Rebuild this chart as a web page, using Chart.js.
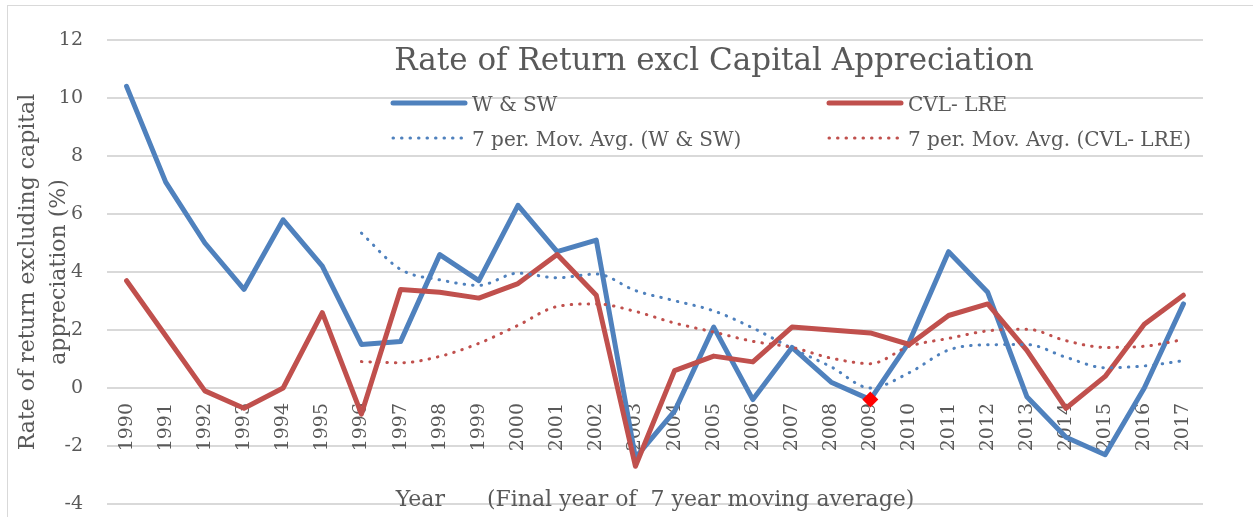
<!DOCTYPE html>
<html>
<head>
<meta charset="utf-8">
<script src="https://cdn.jsdelivr.net/npm/chart.js@4/dist/chart.umd.min.js"></script>
<style>
  html, body { margin: 0; padding: 0; background: #fff; }
  #wrap { width: 1253px; height: 517px; position: relative; }
</style>
</head>
<body>
<div id="wrap"><canvas id="rateChart" width="1253" height="517"></canvas></div>
<script>
// Rate of return excl capital appreciation, 1990-2017

var years = ['1990', '1991', '1992', '1993', '1994', '1995', '1996', '1997', '1998', '1999',
             '2000', '2001', '2002', '2003', '2004', '2005', '2006', '2007', '2008', '2009',
             '2010', '2011', '2012', '2013', '2014', '2015', '2016', '2017'];

var wsw = [10.4, 7.1, 5.0, 3.4, 5.8, 4.2, 1.5, 1.6, 4.6, 3.7,
           6.3, 4.7, 5.1, -2.4, -0.8, 2.1, -0.4, 1.4, 0.2, -0.4,
           1.6, 4.7, 3.3, -0.3, -1.7, -2.3, 0.0, 2.9];

var cvl = [3.7, 1.8, -0.1, -0.7, 0.0, 2.6, -0.9, 3.4, 3.3, 3.1,
           3.6, 4.6, 3.2, -2.7, 0.6, 1.1, 0.9, 2.1, 2.0, 1.9,
           1.5, 2.5, 2.9, 1.3, -0.7, 0.4, 2.2, 3.2];

// 7 period moving averages
var wswAvg = [null, null, null, null, null, null, 5.34, 4.09, 3.73, 3.54,
              3.96, 3.80, 3.93, 3.36, 3.01, 2.66, 2.07, 1.37, 0.73, 0.0,
              0.53, 1.31, 1.49, 1.50, 1.06, 0.70, 0.76, 0.94];

var cvlAvg = [null, null, null, null, null, null, 0.91, 0.87, 1.09, 1.54,
              2.16, 2.81, 2.90, 2.64, 2.24, 1.93, 1.61, 1.40, 1.03, 0.84,
              1.44, 1.71, 1.97, 2.03, 1.63, 1.40, 1.44, 1.67];

var yTicks = [-4, -2, 0, 2, 4, 6, 8, 10, 12];

var highlightYear = '2009';

var BLUE = '#4F81BD';
var RED = '#C0504D';
var TEXT = '#595959';
var GRID = '#D9D9D9';
var FONT = "'DejaVu Serif', serif";

var legendItems = [
    { text: 'W & SW', color: BLUE, dotted: false, x: 393, y: 103 },
    { text: 'CVL- LRE', color: RED, dotted: false, x: 829, y: 103 },
    { text: '7 per. Mov. Avg. (W & SW)', color: BLUE, dotted: true, x: 393, y: 138 },
    { text: '7 per. Mov. Avg. (CVL- LRE)', color: RED, dotted: true, x: 829, y: 138 }
];

// frame, title, legend and x title are drawn on top of the plot like in the Excel original
var overlayPlugin = {
    id: 'overlay',
    beforeDraw: function(chart) {
        var ctx = chart.ctx;
        ctx.save();
        ctx.fillStyle = '#fff';
        ctx.fillRect(0, 0, chart.width, chart.height);
        ctx.strokeStyle = GRID;
        ctx.lineWidth = 1;
        ctx.strokeRect(7.5, 5.5, 1300, 600);
        ctx.restore();
    },
    afterDraw: function(chart) {
        var ctx = chart.ctx;
        var area = chart.chartArea;
        ctx.save();
        ctx.fillStyle = TEXT;
        ctx.textBaseline = 'alphabetic';

        ctx.font = '31px ' + FONT;
        ctx.textAlign = 'center';
        ctx.fillText('Rate of Return excl Capital Appreciation', 714, 70);

        ctx.font = '22px ' + FONT;
        ctx.fillText('Year      (Final year of  7 year moving average)', (area.left + area.right) / 2, 506);

        ctx.font = '20px ' + FONT;
        ctx.textAlign = 'left';
        legendItems.forEach(function(item) {
            ctx.save();
            ctx.strokeStyle = item.color;
            ctx.lineCap = 'round';
            if (item.dotted) {
                ctx.lineWidth = 3;
                ctx.setLineDash([0.5, 8]);
            } else {
                ctx.lineWidth = 5;
            }
            ctx.beginPath();
            ctx.moveTo(item.x, item.y);
            ctx.lineTo(item.x + 72, item.y);
            ctx.stroke();
            ctx.restore();
            ctx.fillStyle = TEXT;
            ctx.fillText(item.text, item.x + 79, item.y + 8);
        });
        ctx.restore();
    }
};

var ctx = document.getElementById('rateChart');

var markerRadius = years.map(function(y) { return y === highlightYear ? 8 : 0; });

var rateChart = new Chart(ctx, {
    type: 'line',
    data: {
        labels: years,
        datasets: [
            {
                label: '7 per. Mov. Avg. (CVL- LRE)',
                data: cvlAvg,
                borderColor: RED,
                borderWidth: 3,
                borderDash: [0.5, 8],
                borderCapStyle: 'round',
                cubicInterpolationMode: 'monotone',
                pointRadius: 0,
                order: 1
            },
            {
                label: '7 per. Mov. Avg. (W & SW)',
                data: wswAvg,
                borderColor: BLUE,
                borderWidth: 3,
                borderDash: [0.5, 8],
                borderCapStyle: 'round',
                cubicInterpolationMode: 'monotone',
                pointRadius: 0,
                order: 2
            },
            {
                label: 'CVL- LRE',
                data: cvl,
                borderColor: RED,
                borderWidth: 5,
                borderCapStyle: 'round',
                borderJoinStyle: 'round',
                pointRadius: 0,
                tension: 0,
                order: 3
            },
            {
                label: 'W & SW',
                data: wsw,
                borderColor: BLUE,
                borderWidth: 5,
                borderCapStyle: 'round',
                borderJoinStyle: 'round',
                pointRadius: markerRadius,
                pointStyle: 'rectRot',
                pointBackgroundColor: '#FF0000',
                pointBorderColor: '#FF0000',
                pointBorderWidth: 0,
                tension: 0,
                order: 4
            }
        ]
    },
    options: {
        responsive: false,
        animation: false,
        layout: {
            padding: { left: 7, right: 50, top: 40, bottom: 13 }
        },
        plugins: {
            legend: { display: false },
            title: { display: false },
            tooltip: { enabled: false }
        },
        scales: {
            x: {
                position: { y: 0 },
                offset: true,
                afterFit: function(scale) {
                    scale.height = 0;
                    scale.paddingTop = 0;
                    scale.paddingBottom = 0;
                },
                grid: { display: false },
                border: { display: false },
                ticks: {
                    autoSkip: false,
                    minRotation: 90,
                    maxRotation: 90,
                    padding: 7,
                    color: TEXT,
                    font: { family: FONT, size: 19 }
                }
            },
            y: {
                min: -4,
                max: 12,
                afterFit: function(scale) {
                    scale.width = 100;
                    scale.paddingTop = 0;
                    scale.paddingBottom = 0;
                },
                afterBuildTicks: function(scale) {
                    scale.ticks = yTicks.map(function(v) { return { value: v }; });
                },
                grid: { color: GRID, lineWidth: 2, drawTicks: false },
                border: { display: false },
                ticks: {
                    padding: 24,
                    color: TEXT,
                    font: { family: FONT, size: 19 }
                },
                title: {
                    display: true,
                    text: ['Rate of return excluding capital', 'appreciation (%)'],
                    color: TEXT,
                    font: { family: FONT, size: 22, lineHeight: 1.4 },
                    padding: { top: 6, bottom: 0 }
                }
            }
        }
    },
    plugins: [overlayPlugin]
});
</script>
</body>
</html>
